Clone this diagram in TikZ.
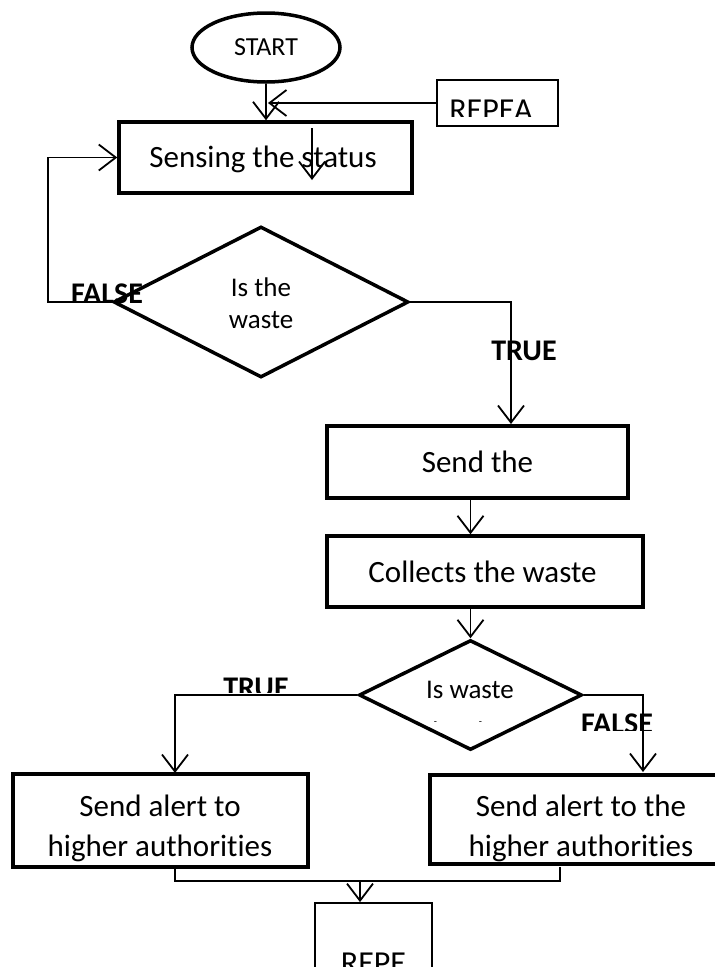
\documentclass[tikz,border=0pt]{standalone}
\usepackage{fontspec}
\setmainfont{Carlito}[Ligatures={NoCommon}]
\usetikzlibrary{arrows.meta,shapes.geometric}
\tikzset{
  thickbox/.style={draw, line width=3.5pt, inner sep=0pt},
  thinbox/.style={draw, line width=1.8pt, inner sep=0pt},
  ln/.style={line width=1.8pt},
  arr/.style={line width=1.8pt, -{Straight Barb[length=17pt,width=26pt,line width=1.8pt]}},
  boxtxt/.style={font=\fontsize{31}{40}\selectfont, align=center, inner sep=0pt},
  dtxt/.style={font=\fontsize{27}{32}\selectfont, align=center, inner sep=0pt},
  lbl/.style={font=\bfseries\fontsize{30}{34}\selectfont, inner sep=0pt, anchor=north},
  reptxt/.style={font=\fontsize{32}{36}\selectfont, inner sep=0pt, anchor=north},
}
\begin{document}
\begin{tikzpicture}[x=1pt,y=-1pt]
\useasboundingbox (0,0) rectangle (715,967);
\fill[white] (0,0) rectangle (715,967);

% start
\node[draw, ellipse, line width=3.5pt, minimum width=148, minimum height=69, inner sep=0pt,
      font=\fontsize{26}{30}\selectfont] (start) at (266,47.5) {START};

% repeat box top right
\node[thinbox, minimum width=121, minimum height=46] (rep1) at (497.5,103) {};
\begin{scope}
  \clip (438,81) rectangle (557,116);
  \node[reptxt] (rep1t) at (491,100) {REPEA};
\end{scope}

% sensing box
\node[thickbox, minimum width=293, minimum height=71] (sense) at (265.5,157.5) {};
\node[boxtxt] (senset) at (263,159) {Sensing the status};

\coordinate (rtip) at (268,103);
\draw[arr] (start.south) -- (start.south |- sense.north);
\draw[arr] (rep1.west) -- (rtip);
\coordinate (ia) at (312,128);
\coordinate (ib) at (312,180);
\draw[arr] (ia) -- (ib);

% decision 1
\node[draw, diamond, line width=3.5pt, minimum width=295, minimum height=151, inner sep=0pt] (d1) at (261,302) {};
\node[dtxt] (d1t) at (261,303) {Is the\\waste};

\draw[arr] (d1.west) -- ++(-64,0) |- (sense.west);
\begin{scope}
  \clip (60,270) rectangle (160,303);
  \node[lbl] (f1) at (107,284) {FALSE};
\end{scope}

% send box
\node[thickbox, minimum width=301, minimum height=72] (send) at (477.5,462) {};
\node[boxtxt] (sendt) at (477.5,462) {Send the};
\coordinate (tt) at (511,424);
\draw[arr] (d1.east) -| (tt);
\begin{scope}
  \clip (480,330) rectangle (570,360);
  \node[lbl] (t1) at (524,341) {TRUE};
\end{scope}

% collects box
\node[thickbox, minimum width=316, minimum height=71] (coll) at (485,571.5) {};
\node[boxtxt] (collt) at (482.5,572) {Collects the waste};

% decision 2
\node[draw, diamond, line width=3.5pt, minimum width=223, minimum height=110, inner sep=0pt] (d2) at (470.5,695) {};
\draw[arr] (send.south -| d2.north) -- (coll.north -| d2.north);
\draw[arr] (coll.south -| d2.north) -- (d2.north);
\node[dtxt] (d2t) at (470,690) {Is waste};
\begin{scope}
  \clip (400,714) rectangle (540,721);
  \node[dtxt] (d2t2) at (458,731) {level};
\end{scope}

% alert boxes
\node[thickbox, minimum width=295, minimum height=93] (alL) at (160.5,820.5) {};
\node[boxtxt] (alLt) at (160,828) {Send alert to\\higher authorities};
\node[thickbox, minimum width=300, minimum height=89] (alR) at (580,819.5) {};
\begin{scope}
  \clip (432,777) rectangle (715,861);
  \node[boxtxt] (alRt) at (581,828) {Send alert to the\\higher authorities};
\end{scope}

\coordinate (tl) at (175,773);
\coordinate (fr) at (643,772);
\draw[arr] (d2.west) -| (tl);
\draw[arr] (d2.east) -| (fr);
\begin{scope}
  \clip (200,660) rectangle (320,692);
  \node[lbl] (t2) at (256,678) {TRUE};
\end{scope}
\begin{scope}
  \clip (570,700) rectangle (680,730);
  \node[lbl] (f2) at (617,714) {FALSE};
\end{scope}

% merge
\coordinate (bl) at (175,869);
\coordinate (br) at (560,867);
\coordinate (j) at (360,881);
\draw[ln] (bl) |- (j) -| (br);

\node[thinbox, minimum width=117, minimum height=80] (rep2) at (373.5,943) {};
\draw[arr] (j) -- (j |- rep2.north);
\begin{scope}
  \clip (317,904) rectangle (430,967);
  \node[reptxt] (rep2t) at (373.5,953) {REPE};
\end{scope}
\end{tikzpicture}
\end{document}
